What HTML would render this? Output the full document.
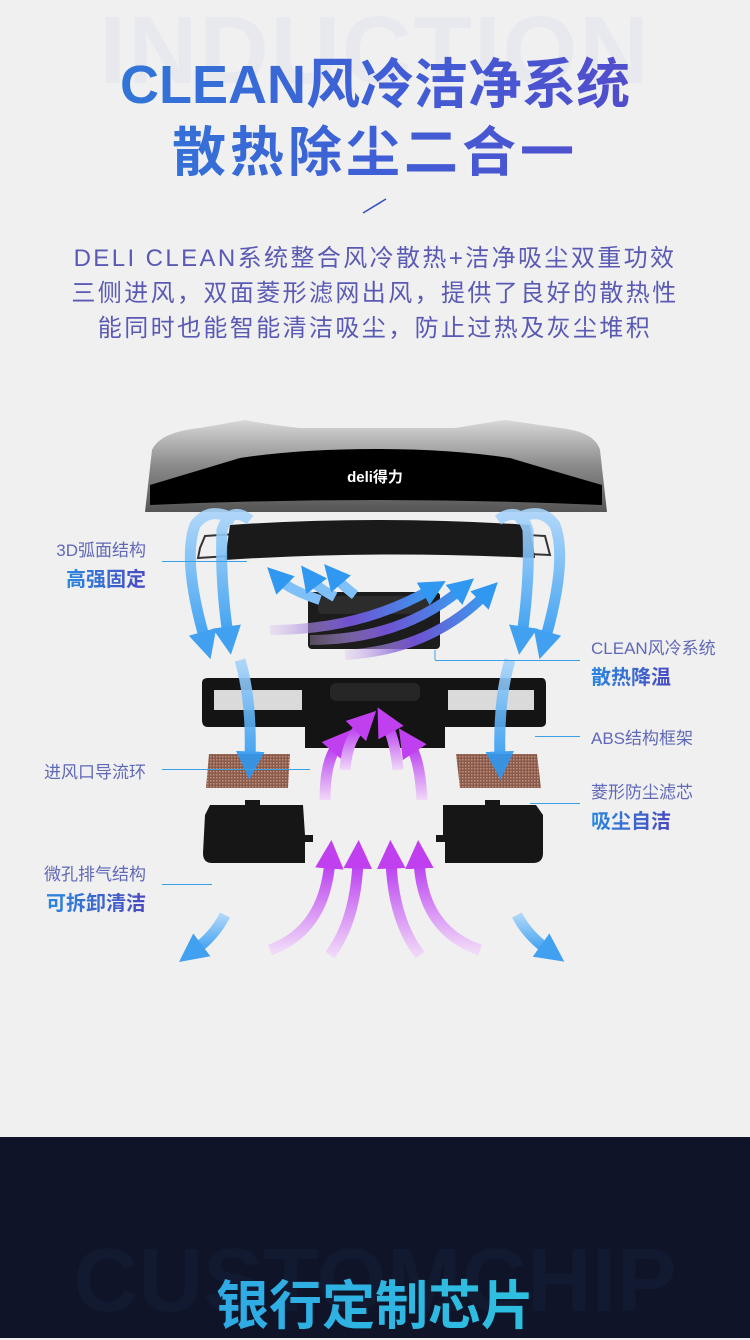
<!DOCTYPE html>
<html><head><meta charset="utf-8"><style>
*{margin:0;padding:0;box-sizing:border-box}
body{width:750px;height:1338px;background:#f0f0f0;position:relative;overflow:hidden;font-family:"Liberation Sans","Noto Sans CJK SC",sans-serif}
.ab{position:absolute;white-space:nowrap}
.bg{left:0;width:750px;text-align:center;font-weight:bold;color:#e8e9ef;font-size:96px;letter-spacing:2px}
.t{left:0;width:750px;text-align:center;font-weight:bold;background:linear-gradient(90deg,#2a80d8,#3f5fd6 50%,#5a45c8);-webkit-background-clip:text;background-clip:text;color:transparent}
.p{left:0;width:750px;text-align:center;color:#5a5ab5;font-size:24px;letter-spacing:2.4px}
.l1{font-size:17px;color:#6068b8}
.l2{font-size:20px;font-weight:bold;background:linear-gradient(90deg,#2a88e0,#4a4ac0);-webkit-background-clip:text;background-clip:text;color:transparent}
.r{text-align:right}
.ln{position:absolute;height:1px;background:#3aa0e8}
.dark{position:absolute;left:0;top:1137px;width:750px;height:201px;background:#0f1428}
</style></head><body>
<div class="ab bg" style="top:-4px">INDUCTION</div>
<div class="ab t" style="top:40px;font-size:54px">CLEAN风冷洁净系统</div>
<div class="ab t" style="top:108px;font-size:54px;letter-spacing:4px">散热除尘二合一</div>
<svg class="ab" style="left:360px;top:196px" width="30" height="20"><line x1="3" y1="17" x2="26" y2="3" stroke="#3050c0" stroke-width="1.5"/></svg>
<div class="ab p" style="top:238px">DELI CLEAN系统整合风冷散热+洁净吸尘双重功效</div>
<div class="ab p" style="top:273px">三侧进风，双面菱形滤网出风，提供了良好的散热性</div>
<div class="ab p" style="top:308px">能同时也能智能清洁吸尘，防止过热及灰尘堆积</div>

<svg class="ab" style="left:0;top:0" width="750" height="1137">
<defs>
<linearGradient id="cov" x1="0" y1="0" x2="0" y2="1"><stop offset="0" stop-color="#d8d8d8"/><stop offset=".5" stop-color="#8a8a8a"/><stop offset="1" stop-color="#555"/></linearGradient>
<linearGradient id="bl" x1="0" y1="0" x2="0" y2="1"><stop offset="0" stop-color="#a8d4fa"/><stop offset="1" stop-color="#2e9af2"/></linearGradient>
<linearGradient id="pu" x1="0" y1="1" x2="0" y2="0"><stop offset="0" stop-color="#f0d8f8"/><stop offset="1" stop-color="#b838f0"/></linearGradient>
<linearGradient id="pu2" x1="0" y1="0" x2="1" y2="0"><stop offset="0" stop-color="#d8b8f0" stop-opacity=".3"/><stop offset=".5" stop-color="#7050d0"/><stop offset="1" stop-color="#3a9af0"/></linearGradient>
<marker id="ab" viewBox="0 0 10 10" refX="3" refY="5" markerWidth="2.6" markerHeight="2.6" orient="auto"><path d="M0 0L10 5L0 10z" fill="#3098f0"/></marker>
<marker id="ap" viewBox="0 0 10 10" refX="3" refY="5" markerWidth="2.6" markerHeight="2.6" orient="auto"><path d="M0 0L10 5L0 10z" fill="#c040f0"/></marker>
<pattern id="mesh" width="3" height="3" patternUnits="userSpaceOnUse"><rect width="3" height="3" fill="#8a5a4a"/><rect width="1.5" height="1.5" fill="#c09080"/></pattern>
</defs>
<path d="M145 512 L152 450 Q160 432 200 428 L245 420 Q270 425 300 428 L455 428 Q485 423 505 420 L560 428 Q595 432 600 450 L607 512 Z" fill="url(#cov)"/>
<path d="M150 505 L150 485 Q200 470 240 458 Q300 449 375 449 Q450 449 510 458 Q550 470 602 485 L602 505 Q375 495 150 505Z" fill="#000"/>
<text x="375" y="482" text-anchor="middle" fill="#fff" font-size="15" font-weight="bold" font-family="Liberation Sans,Noto Sans CJK SC,sans-serif">deli得力</text>
<path d="M200 548 L205 536 Q330 528 375 528 Q420 528 545 536 L550 555 Q375 546 198 558Z" fill="none" stroke="#333" stroke-width="2"/>
<path d="M230 525 Q375 515 530 525 L535 558 Q375 550 225 560Z" fill="#1a1a1a"/>
<rect x="308" y="592" width="132" height="57" rx="4" fill="#1c1c1c"/>
<rect x="318" y="596" width="112" height="18" rx="4" fill="#2c2c2c"/>
<line x1="435" y1="650" x2="435" y2="660" stroke="#3aa0e8"/>
<path d="M202 683 Q202 678 208 678 L542 678 Q546 678 546 685 L546 722 Q546 727 540 727 L445 727 L445 748 L305 748 L305 727 L208 727 Q202 727 202 720Z" fill="#141414"/>
<rect x="214" y="690" width="88" height="20" fill="#f0f0f0" opacity=".9"/>
<rect x="448" y="690" width="86" height="20" fill="#f0f0f0" opacity=".9"/>
<rect x="330" y="683" width="90" height="18" rx="6" fill="#262626"/>
<path d="M209 754 L290 754 L288 788 L206 788Z" fill="url(#mesh)"/>
<path d="M456 754 L537 754 L541 788 L460 788Z" fill="url(#mesh)"/>
<path d="M210 805 L245 805 L245 800 L260 800 L260 805 L303 805 L305 835 L313 835 L313 842 L305 842 L305 863 L212 863 Q203 863 203 853 L205 815Z" fill="#161616"/>
<path d="M443 805 L485 805 L485 800 L500 800 L500 805 L536 805 L543 815 L543 853 Q543 863 533 863 L445 863 L445 842 L436 842 L436 835 L443 835Z" fill="#161616"/>
<g fill="none" stroke="url(#bl)" stroke-width="11" opacity=".9">
<path d="M235 520 Q210 505 195 525 Q182 560 205 640" marker-end="url(#ab)"/>
<path d="M250 520 Q230 505 222 530 Q220 580 228 635" marker-end="url(#ab)"/>
<path d="M498 520 Q520 505 528 530 Q530 580 522 635" marker-end="url(#ab)"/>
<path d="M515 520 Q540 505 555 525 Q568 560 545 640" marker-end="url(#ab)"/>
<path d="M240 660 Q252 700 250 760" marker-end="url(#ab)"/>
<path d="M510 660 Q498 700 500 760" marker-end="url(#ab)"/>
<path d="M225 915 Q215 935 195 950" marker-end="url(#ab)"/>
<path d="M517 915 Q527 935 548 950" marker-end="url(#ab)"/>
</g>
<g fill="none" stroke="#80c0f8" stroke-width="10">
<path d="M320 600 Q290 590 280 580" marker-end="url(#ab)"/>
<path d="M335 597 Q318 588 312 580" marker-end="url(#ab)"/>
<path d="M355 595 Q342 585 336 578" marker-end="url(#ab)"/>
</g>
<g fill="none" stroke="url(#pu2)" stroke-width="10">
<path d="M270 630 Q360 630 430 590" marker-end="url(#ab)"/>
<path d="M310 640 Q400 640 460 590" marker-end="url(#ab)"/>
<path d="M345 655 Q430 650 485 595" marker-end="url(#ab)"/>
</g>
<g fill="none" stroke="url(#pu)" stroke-width="11">
<path d="M325 800 Q325 760 338 745" marker-end="url(#ap)"/>
<path d="M345 770 Q347 740 362 725" marker-end="url(#ap)"/>
<path d="M398 770 Q395 740 387 725" marker-end="url(#ap)"/>
<path d="M422 800 Q420 760 410 745" marker-end="url(#ap)"/>
<path d="M270 950 Q325 930 330 860" marker-end="url(#ap)"/>
<path d="M330 955 Q356 920 358 860" marker-end="url(#ap)"/>
<path d="M420 955 Q393 920 391 860" marker-end="url(#ap)"/>
<path d="M480 950 Q422 930 419 860" marker-end="url(#ap)"/>
</g>
</svg>

<div class="ab l1 r" style="right:604px;top:536px">3D弧面结构</div>
<div class="ab l2 r" style="right:604px;top:563px">高强固定</div>
<div class="ln" style="left:162px;width:85px;top:561px"></div>
<div class="ab l1" style="left:591px;top:634px">CLEAN风冷系统</div>
<div class="ab l2" style="left:591px;top:661px">散热降温</div>
<div class="ln" style="left:435px;width:145px;top:660px"></div>
<div class="ab l1" style="left:591px;top:724px">ABS结构框架</div>
<div class="ln" style="left:535px;width:45px;top:736px"></div>
<div class="ab l1 r" style="right:604px;top:758px">进风口导流环</div>
<div class="ln" style="left:162px;width:148px;top:769px"></div>
<div class="ab l1" style="left:591px;top:778px">菱形防尘滤芯</div>
<div class="ab l2" style="left:591px;top:805px">吸尘自洁</div>
<div class="ln" style="left:530px;width:50px;top:803px"></div>
<div class="ab l1 r" style="right:604px;top:860px">微孔排气结构</div>
<div class="ab l2 r" style="right:604px;top:887px">可拆卸清洁</div>
<div class="ln" style="left:162px;width:50px;top:884px"></div>

<div class="dark"></div>
<div class="ab" style="left:0;width:750px;top:1230px;text-align:center;font-size:90px;font-weight:bold;color:#121a31">CUSTOMCHIP</div>
<div class="ab" style="left:0;width:750px;top:1264px;text-align:center;font-size:53px;font-weight:bold;background:linear-gradient(90deg,#2f9ae8,#2ed0dc);-webkit-background-clip:text;background-clip:text;color:transparent">银行定制芯片</div>
</body></html>
